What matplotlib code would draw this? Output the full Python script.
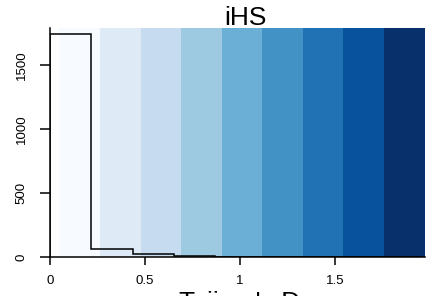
import matplotlib
matplotlib.use("Agg")
import matplotlib.pyplot as plt

plt.rcParams['font.family'] = ['Liberation Sans', 'DejaVu Sans']

# Data
bin_edges = [0.0, 0.2175, 0.435, 0.6525, 0.87, 1.0875, 1.305, 1.5225, 1.74, 1.9575]
counts = [1740, 60, 22, 5, 2, 1, 1, 0, 0]
band_edges = [0.05, 0.263, 0.477, 0.69, 0.904, 1.117, 1.331, 1.544, 1.758, 1.974]
band_colors = ["#F7FBFF", "#DEEBF7", "#C6DBEF", "#9ECAE1", "#6BAED6",
               "#4292C6", "#2171B5", "#08519C", "#08306B"]
xticks = [0, 0.5, 1, 1.5]
xticklabels = ["0", "0.5", "1", "1.5"]
yticks = [0, 500, 1000, 1500]
title = "iHS"
xlabel = "Tajima's D"

W, H = 428, 296
fig = plt.figure(figsize=(W / 100, H / 100), dpi=100)
ax = fig.add_axes([50 / W, (H - 257) / H, 375 / W, (257 - 28) / H])

for i, c in enumerate(band_colors):
    ax.axvspan(band_edges[i], band_edges[i + 1], color=c, lw=0, zorder=0)

ax.stairs(counts, bin_edges, color="black", lw=1.1, zorder=3)

ax.set_xlim(0, 1.974)
ax.set_ylim(0, 1790)
ax.spines['top'].set_visible(False)
ax.spines['right'].set_visible(False)
for s in ['left', 'bottom']:
    ax.spines[s].set_linewidth(1.1)
    ax.spines[s].set_zorder(4)

ax.set_xticks(xticks)
ax.set_xticklabels(xticklabels)
ax.set_yticks(yticks)
ax.set_yticklabels([str(v) for v in yticks], rotation=90, va='center')
ax.tick_params(axis='x', length=6, width=1.1, pad=7, labelsize=9.5)
ax.tick_params(axis='y', length=7, width=1.1, pad=9, labelsize=9.5)

fig.text(245 / W, 1 - 25 / H, title, ha='center', va='baseline', fontsize=19)
fig.text(240 / W, 1 - 291 / H, xlabel, ha='center', va='top', fontsize=19)

fig.savefig("out.png", dpi=100)
